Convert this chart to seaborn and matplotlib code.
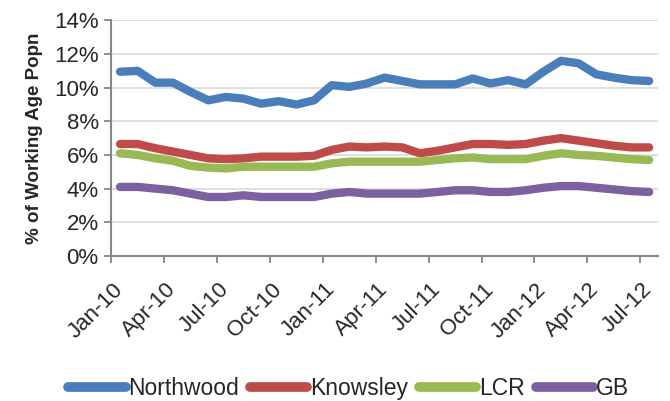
import numpy as np
import pandas as pd
import matplotlib
matplotlib.use('Agg')
import matplotlib.pyplot as plt
import seaborn as sns

# monthly series, Jan-10 .. Jul-12 (% of working age population)
months = pd.date_range('2010-01-01', '2012-07-01', freq='MS').strftime('%b-%y').tolist()
northwood = [10.95, 11.0, 10.3, 10.3, 9.75, 9.25, 9.45, 9.35, 9.05, 9.2, 9.0, 9.25,
             10.15, 10.05, 10.25, 10.6, 10.4, 10.2, 10.2, 10.2, 10.55, 10.25, 10.45, 10.2,
             10.95, 11.6, 11.45, 10.8, 10.6, 10.45, 10.4]
knowsley = [6.65, 6.65, 6.4, 6.2, 6.0, 5.8, 5.75, 5.8, 5.9, 5.9, 5.9, 5.95,
            6.3, 6.5, 6.45, 6.5, 6.45, 6.1, 6.25, 6.45, 6.65, 6.65, 6.6, 6.65,
            6.85, 7.0, 6.85, 6.7, 6.55, 6.45, 6.45]
lcr = [6.1, 6.0, 5.8, 5.65, 5.35, 5.25, 5.2, 5.3, 5.3, 5.3, 5.3, 5.3,
       5.5, 5.6, 5.6, 5.6, 5.6, 5.6, 5.7, 5.8, 5.85, 5.75, 5.75, 5.75,
       5.95, 6.1, 6.0, 5.95, 5.85, 5.75, 5.7]
gb = [4.1, 4.1, 4.0, 3.9, 3.7, 3.5, 3.5, 3.6, 3.5, 3.5, 3.5, 3.5,
      3.7, 3.8, 3.7, 3.7, 3.7, 3.7, 3.8, 3.9, 3.9, 3.8, 3.8, 3.9,
      4.05, 4.15, 4.15, 4.05, 3.95, 3.85, 3.8]
series_names = ['Northwood', 'Knowsley', 'LCR', 'GB']
colors = ['#4a7ebb', '#be4b48', '#98b954', '#7d60a0']

# long format for seaborn
df = pd.DataFrame({'idx': np.arange(len(months)),
                   'Northwood': northwood, 'Knowsley': knowsley,
                   'LCR': lcr, 'GB': gb})
long_df = df.melt(id_vars='idx', var_name='area', value_name='pct')

sns.set_style('white')
plt.rcParams['font.family'] = ['Liberation Sans', 'DejaVu Sans']

fig = plt.figure(figsize=(6.7, 4.01), dpi=100)
ax = fig.add_axes([0.166, 0.362, 0.816, 0.587])

sns.lineplot(data=long_df, x='idx', y='pct', hue='area', hue_order=series_names,
             palette=colors, linewidth=6, solid_capstyle='round', ax=ax, legend=True)

ax.set_xlim(-0.5, len(months) - 0.5)
ax.set_ylim(0, 14)
ax.set_yticks(np.arange(0, 15, 2))
ax.set_yticklabels([f'{v}%' for v in range(0, 15, 2)], fontsize=16)
ax.yaxis.grid(True, color='#d9d9d9', linewidth=1.2)
ax.set_axisbelow(True)

# ticks between categories, labels on every third month
ax.set_xticks(np.arange(-0.5, len(months) - 1, 3))
ax.set_xticklabels([])
lab_pos = np.arange(0, len(months), 3)
ax.set_xticks(lab_pos, minor=True)
ax.set_xticklabels([months[i] for i in lab_pos], minor=True, rotation=45,
                   ha='right', va='center', rotation_mode='anchor', fontsize=16)
ax.tick_params(axis='x', which='minor', length=0, pad=22)
ax.tick_params(axis='both', which='major', direction='out', length=5, width=1.3,
               color='#868686', bottom=True, left=True)
ax.tick_params(axis='y', pad=4)

for s in ['top', 'right']:
    ax.spines[s].set_visible(False)
for s in ['left', 'bottom']:
    ax.spines[s].set_color('#868686')
    ax.spines[s].set_linewidth(1.5)

ax.set_xlabel('')
ax.set_ylabel('% of Working Age Popn', fontsize=13.5, fontweight='bold', labelpad=8)

handles, labels = ax.get_legend_handles_labels()
ax.legend_.remove()
for h in handles:
    h.set_linewidth(7)
    h.set_solid_capstyle('round')
fig.legend(handles, labels, loc='center', bbox_to_anchor=(0.52, 0.03), ncol=4,
           frameon=False, fontsize=16.5, handlelength=2.5, handletextpad=0.1,
           columnspacing=0.5, borderaxespad=0)

fig.savefig('out.png', dpi=100)
